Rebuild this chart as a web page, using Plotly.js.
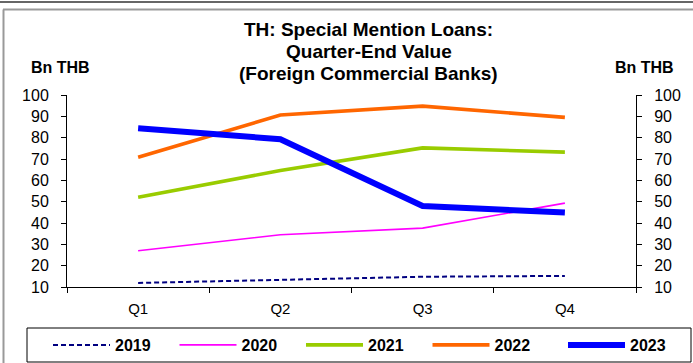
<!DOCTYPE html>
<html>
<head>
<meta charset="utf-8">
<script src="https://cdn.plot.ly/plotly-3.0.1.min.js"></script>
<style>
html,body{margin:0;padding:0;background:#fff;}
#chart{width:693px;height:363px;}
</style>
</head>
<body>
<div id="chart"></div>
<script>
var quarters = ['Q1', 'Q2', 'Q3', 'Q4'];
var years = ['2019', '2020', '2021', '2022', '2023'];
var v2019 = [11.9, 13.4, 14.8, 15.2];
var v2020 = [27.0, 34.5, 37.6, 49.3];
var v2021 = [52.1, 64.6, 75.2, 73.2];
var v2022 = [70.8, 90.6, 94.8, 89.5];
var v2023 = [84.4, 79.3, 48.0, 44.9];
var yTickVals = [10, 20, 30, 40, 50, 60, 70, 80, 90, 100];
var titleLines = ['TH: Special Mention Loans:', 'Quarter-End Value', '(Foreign Commercial Banks)'];
var unitLabel = 'Bn THB';

var FONT = 'Arial, "Liberation Sans", sans-serif';
var W = 693, H = 363;
var L = 67, R = 636, T = 95, B = 287;
function px(x) { return (x - L) / (R - L); }
function py(y) { return (B - y) / (B - T); }

var seriesVals = [v2019, v2020, v2021, v2022, v2023];
var styles = [
  {color: '#000080', width: 2, dash: '5px,3px'},
  {color: '#FF00FF', width: 1.6, dash: 'solid'},
  {color: '#99CC00', width: 3.6, dash: 'solid'},
  {color: '#FF6600', width: 3.6, dash: 'solid'},
  {color: '#0000FF', width: 6, dash: 'solid'}
];

var traces = years.map(function (yr, i) {
  return {
    type: 'scatter', mode: 'lines', name: yr,
    x: quarters, y: seriesVals[i],
    line: styles[i],
    legend: i < 4 ? 'legend' : 'legend2',
    hoverinfo: 'x+y+name'
  };
});

var axisCommon = {
  range: [10, 100], tickvals: yTickVals, ticktext: yTickVals.map(String),
  showgrid: false, zeroline: false, showline: true, linecolor: '#000', linewidth: 1,
  ticks: 'outside', ticklen: 5, tickcolor: '#000', tickwidth: 1,
  ticklabelstandoff: 9,
  tickfont: {family: FONT, size: 16, color: '#000'},
  fixedrange: true
};

var legendCommon = {
  orientation: 'h', xref: 'container', yref: 'container',
  xanchor: 'left', y: (H - 345) / H, yanchor: 'middle',
  itemwidth: 57, entrywidth: 54.5, entrywidthmode: 'pixels',
  font: {family: FONT, size: 16, color: '#000', weight: 'bold'},
  borderwidth: 0, bgcolor: 'rgba(0,0,0,0)', traceorder: 'normal'
};

var layout = {
  width: W, height: H,
  margin: {l: L, r: W - R, t: T, b: H - B, pad: 0, autoexpand: false},
  paper_bgcolor: '#fff', plot_bgcolor: '#fff',
  showlegend: true,
  legend: Object.assign({}, legendCommon, {x: 48 / W}),
  legend2: Object.assign({}, legendCommon, {x: 563 / W}),
  xaxis: {
    type: 'category', categoryarray: quarters, range: [-0.5, 3.5],
    tickson: 'boundaries', ticks: 'outside', ticklen: 5, tickcolor: '#000',
    showline: true, linecolor: '#000', linewidth: 1, showgrid: false, zeroline: false,
    ticklabelstandoff: 8,
    tickfont: {family: FONT, size: 15, color: '#000'}, fixedrange: true
  },
  yaxis: Object.assign({}, axisCommon, {side: 'left'}),
  yaxis2: Object.assign({}, axisCommon, {side: 'right', overlaying: 'y', anchor: 'x'}),
  shapes: [
    {type: 'line', xref: 'paper', yref: 'paper', x0: px(0), x1: px(W), y0: py(2), y1: py(2), line: {color: '#333', width: 1.5}},
    {type: 'line', xref: 'paper', yref: 'paper', x0: px(3), x1: px(W), y0: py(9.5), y1: py(9.5), line: {color: '#999', width: 2}},
    {type: 'line', xref: 'paper', yref: 'paper', x0: px(3.5), x1: px(3.5), y0: py(9.5), y1: py(H), line: {color: '#999', width: 2}},
    {type: 'rect', xref: 'paper', yref: 'paper', x0: px(27), x1: px(691), y0: py(362), y1: py(328), line: {color: '#000', width: 1}}
  ],
  annotations: [
    {text: titleLines[0], x: px(369), y: py(30), yanchor: 'middle'},
    {text: titleLines[1], x: px(369), y: py(51.5), yanchor: 'middle'},
    {text: titleLines[2], x: px(369), y: py(73), yanchor: 'middle'}
  ].map(function (a) {
    return Object.assign({xref: 'paper', yref: 'paper', xanchor: 'center', showarrow: false,
      font: {family: FONT, size: 19, color: '#000', weight: 'bold'}}, a);
  }).concat([
    {text: unitLabel, xref: 'paper', yref: 'paper', x: px(29), y: py(67), xanchor: 'left', yanchor: 'middle', showarrow: false,
      font: {family: FONT, size: 16, color: '#000', weight: 'bold'}},
    {text: unitLabel, xref: 'paper', yref: 'paper', x: px(676), y: py(67), xanchor: 'right', yanchor: 'middle', showarrow: false,
      font: {family: FONT, size: 16, color: '#000', weight: 'bold'}}
  ])
};

traces.push({type: 'scatter', mode: 'lines', x: quarters, y: [null, null, null, null], yaxis: 'y2', showlegend: false, hoverinfo: 'skip'});

Plotly.newPlot('chart', traces, layout, {displayModeBar: false, staticPlot: false});
</script>
</body>
</html>
